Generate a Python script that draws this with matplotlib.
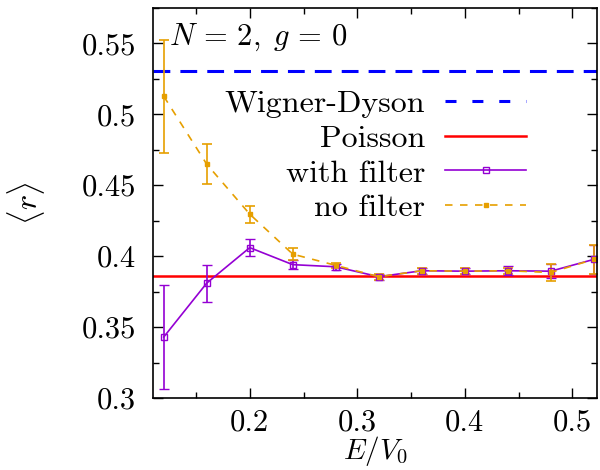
import matplotlib
matplotlib.use("Agg")
import matplotlib.pyplot as plt
from matplotlib.lines import Line2D
from matplotlib.ticker import MultipleLocator

plt.rcParams['font.family'] = ['cmr10']
plt.rcParams['mathtext.fontset'] = 'cm'
plt.rcParams['axes.formatter.use_mathtext'] = True

# Data
energy = [0.12, 0.16, 0.20, 0.24, 0.28, 0.32, 0.36, 0.40, 0.44, 0.48, 0.52]
r_filter = [0.343, 0.381, 0.406, 0.394, 0.3925, 0.3855, 0.3897, 0.3894, 0.3897, 0.3894, 0.3977]
err_filter = [0.037, 0.013, 0.006, 0.003, 0.002, 0.002, 0.002, 0.002, 0.003, 0.005, 0.0105]
r_nofilter = [0.5127, 0.4648, 0.4296, 0.4014, 0.3935, 0.3855, 0.3897, 0.3894, 0.3897, 0.3885, 0.3977]
err_nofilter = [0.040, 0.014, 0.006, 0.004, 0.002, 0.002, 0.002, 0.002, 0.002, 0.006, 0.0105]
wigner_dyson = 0.5307
poisson = 0.3863

c_wd = '#0000ff'
c_p = '#ff0000'
c_f = '#9400d3'
c_nf = '#e69f00'

wd_ls = (0, (5.5, 3.3))
wd_leg_ls = (0, (3.6, 5.2))
nf_ls = (0, (4.5, 4.5))

fig = plt.figure(figsize=(6, 4.7), dpi=100)
ax = fig.add_axes([0.255, 0.1532, 0.74, 0.83])

ax.axhline(wigner_dyson, color=c_wd, lw=2.2, ls=wd_ls)
ax.axhline(poisson, color=c_p, lw=1.8)

ax.errorbar(energy, r_filter, yerr=err_filter, color=c_f, lw=1.2, elinewidth=1.2,
            capsize=3.5, capthick=1.2, marker='s', ms=4.2, mfc='none', mec=c_f, mew=1.0)
ax.errorbar(energy, r_nofilter, yerr=err_nofilter, color=c_nf, lw=1.2, ls=nf_ls,
            elinewidth=1.2, capsize=3.5, capthick=1.2, marker='s', ms=3.5, mfc=c_nf, mec=c_nf)

ax.set_xlim(0.11, 0.523)
ax.set_ylim(0.3, 0.575)
ax.xaxis.set_minor_locator(MultipleLocator(0.05))
ax.yaxis.set_minor_locator(MultipleLocator(0.025))
ax.set_xticks([0.2, 0.3, 0.4, 0.5])
ax.set_xticklabels(['0.2', '0.3', '0.4', '0.5'])
ax.set_yticks([0.3, 0.35, 0.4, 0.45, 0.5, 0.55])
ax.set_yticklabels(['0.3', '0.35', '0.4', '0.45', '0.5', '0.55'])
ax.tick_params(which='both', direction='in', top=True, right=True, width=1.0)
ax.tick_params(which='major', length=7, labelsize=22)
ax.tick_params(axis='y', which='major', pad=12)
ax.tick_params(axis='x', which='major', pad=8)
ax.tick_params(which='minor', length=4)
for s in ax.spines.values():
    s.set_linewidth(1.2)

ax.set_xlabel(r'$E/V_0$', fontsize=21, labelpad=-2)
ax.set_ylabel(r'$\langle r \rangle$', fontsize=23, labelpad=25)

ax.text(0.035, 0.965, r'$N\,=\,2,\;g\,=\,0$', transform=ax.transAxes, fontsize=22,
        ha='left', va='top')

handles = [
    Line2D([], [], color=c_wd, lw=2.2, ls=wd_leg_ls),
    Line2D([], [], color=c_p, lw=1.8),
    Line2D([], [], color=c_f, lw=1.2, marker='s', ms=4.2, mfc='none', mec=c_f),
    Line2D([], [], color=c_nf, lw=1.2, ls=nf_ls, marker='s', ms=3.5, mfc=c_nf, mec=c_nf),
]
labels = ['Wigner-Dyson', 'Poisson', 'with filter', 'no filter']
leg = ax.legend(handles, labels, loc='upper right', bbox_to_anchor=(0.84, 0.79),
                frameon=False, markerfirst=False, fontsize=23, handlelength=2.53,
                handletextpad=0.62, labelspacing=0.2, numpoints=1,
                borderaxespad=0, borderpad=0)
for t in leg.get_texts():
    t.set_ha('right')

fig.savefig('out.png', dpi=100)
